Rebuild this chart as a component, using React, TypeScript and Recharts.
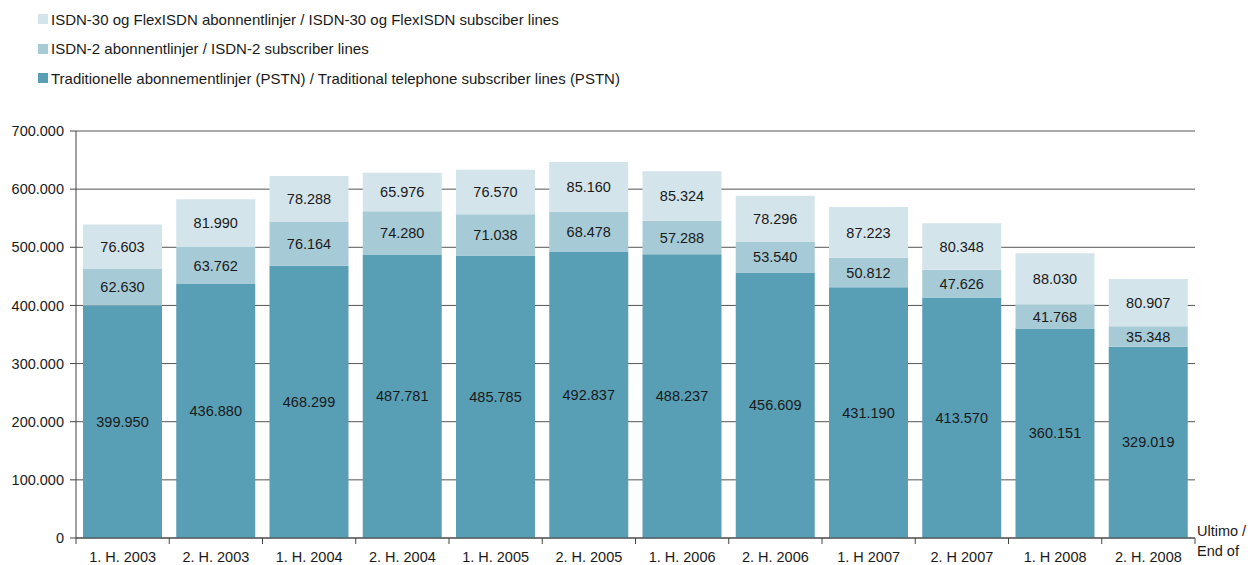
import React from "react";
import { BarChart, Bar, XAxis, YAxis, CartesianGrid, LabelList } from "recharts";

const categories = ["1. H. 2003", "2. H. 2003", "1. H. 2004", "2. H. 2004", "1. H. 2005", "2. H. 2005", "1. H. 2006", "2. H. 2006", "1. H 2007", "2. H 2007", "1. H 2008", "2. H. 2008"];
const pstn = [399950, 436880, 468299, 487781, 485785, 492837, 488237, 456609, 431190, 413570, 360151, 329019];
const isdn2 = [62630, 63762, 76164, 74280, 71038, 68478, 57288, 53540, 50812, 47626, 41768, 35348];
const isdn30 = [76603, 81990, 78288, 65976, 76570, 85160, 85324, 78296, 87223, 80348, 88030, 80907];
const yTicks = [0, 100000, 200000, 300000, 400000, 500000, 600000, 700000];

const seriesNames = [
  "ISDN-30 og FlexISDN abonnentlinjer / ISDN-30 og FlexISDN subsciber lines",
  "ISDN-2 abonnentlinjer / ISDN-2 subscriber lines",
  "Traditionelle abonnementlinjer (PSTN) / Traditional telephone subscriber lines (PSTN)",
];
const colors = ["#d4e4eb", "#a6cbd6", "#589fb5"];

const data = categories.map((c, i) => ({ cat: c, pstn: pstn[i], isdn2: isdn2[i], isdn30: isdn30[i] }));

const fmt = (v: number) => (v === 0 ? "0" : v.toString().replace(/\B(?=(\d{3})+(?!\d))/g, "."));

const W = 1254;
const H = 565;
const M = { top: 131, right: 59, left: 0, bottom: 0 };
const YW = 76;
const band = (W - M.left - M.right - YW) / categories.length;
const FONT = "'Liberation Sans', Arial, sans-serif";
const FS = 14.5;

const XTick = (props: any) => {
  const { x, y, payload, index } = props;
  const axisY = y - 8;
  return (
    <g>
      <line x1={x - band / 2} x2={x - band / 2} y1={axisY} y2={axisY + 6} stroke="#444" />
      {index === categories.length - 1 && (
        <>
          <line x1={x + band / 2} x2={x + band / 2} y1={axisY} y2={axisY + 6} stroke="#444" />
          <text x={x + band / 2 + 2} y={axisY - 2} fontSize={FS} fill="#1a1a1a" fontFamily={FONT}>Ultimo /</text>
          <text x={x + band / 2 + 2} y={axisY + 18} fontSize={FS} fill="#1a1a1a" fontFamily={FONT}>End of</text>
        </>
      )}
      <text x={x} y={axisY + 24} textAnchor="middle" fontSize={FS} fill="#1a1a1a" fontFamily={FONT}>
        {payload.value}
      </text>
    </g>
  );
};

const labelStyle = { fontSize: FS, fill: "#1a1a1a", fontFamily: FONT };

export default function App() {
  return (
    <div style={{ position: "absolute", left: 0, top: 0, width: W, height: H, background: "#fff", fontFamily: FONT }}>
      <div style={{ position: "absolute", left: 38, top: 10 }}>
        {seriesNames.map((n, i) => (
          <div key={n} style={{ display: "flex", alignItems: "center", height: 18, marginBottom: 11.5, fontSize: 15, color: "#1a1a1a", whiteSpace: "nowrap" }}>
            <span style={{ display: "inline-block", width: 10, height: 10, background: colors[i], marginRight: 3 }} />
            {n}
          </div>
        ))}
      </div>
      <BarChart width={W} height={H} data={data} margin={M} barCategoryGap="7.5%">
        <CartesianGrid vertical={false} stroke="#555" />
        <XAxis
          dataKey="cat"
          height={27}
          tickLine={false}
          axisLine={{ stroke: "#444" }}
          tick={<XTick />}
          interval={0}
        />
        <YAxis
          width={YW}
          domain={[0, 700000]}
          ticks={yTicks}
          tickFormatter={fmt}
          tickSize={6}
          tickMargin={6}
          axisLine={{ stroke: "#444" }}
          tickLine={{ stroke: "#444" }}
          tick={{ fontSize: FS, fill: "#1a1a1a", fontFamily: FONT }}
          interval={0}
        />
        <Bar dataKey="pstn" stackId="a" fill={colors[2]} isAnimationActive={false}>
          <LabelList dataKey="pstn" position="center" formatter={fmt} style={labelStyle} />
        </Bar>
        <Bar dataKey="isdn2" stackId="a" fill={colors[1]} isAnimationActive={false}>
          <LabelList dataKey="isdn2" position="center" formatter={fmt} style={labelStyle} />
        </Bar>
        <Bar dataKey="isdn30" stackId="a" fill={colors[0]} isAnimationActive={false}>
          <LabelList dataKey="isdn30" position="center" formatter={fmt} style={labelStyle} />
        </Bar>
      </BarChart>
    </div>
  );
}
